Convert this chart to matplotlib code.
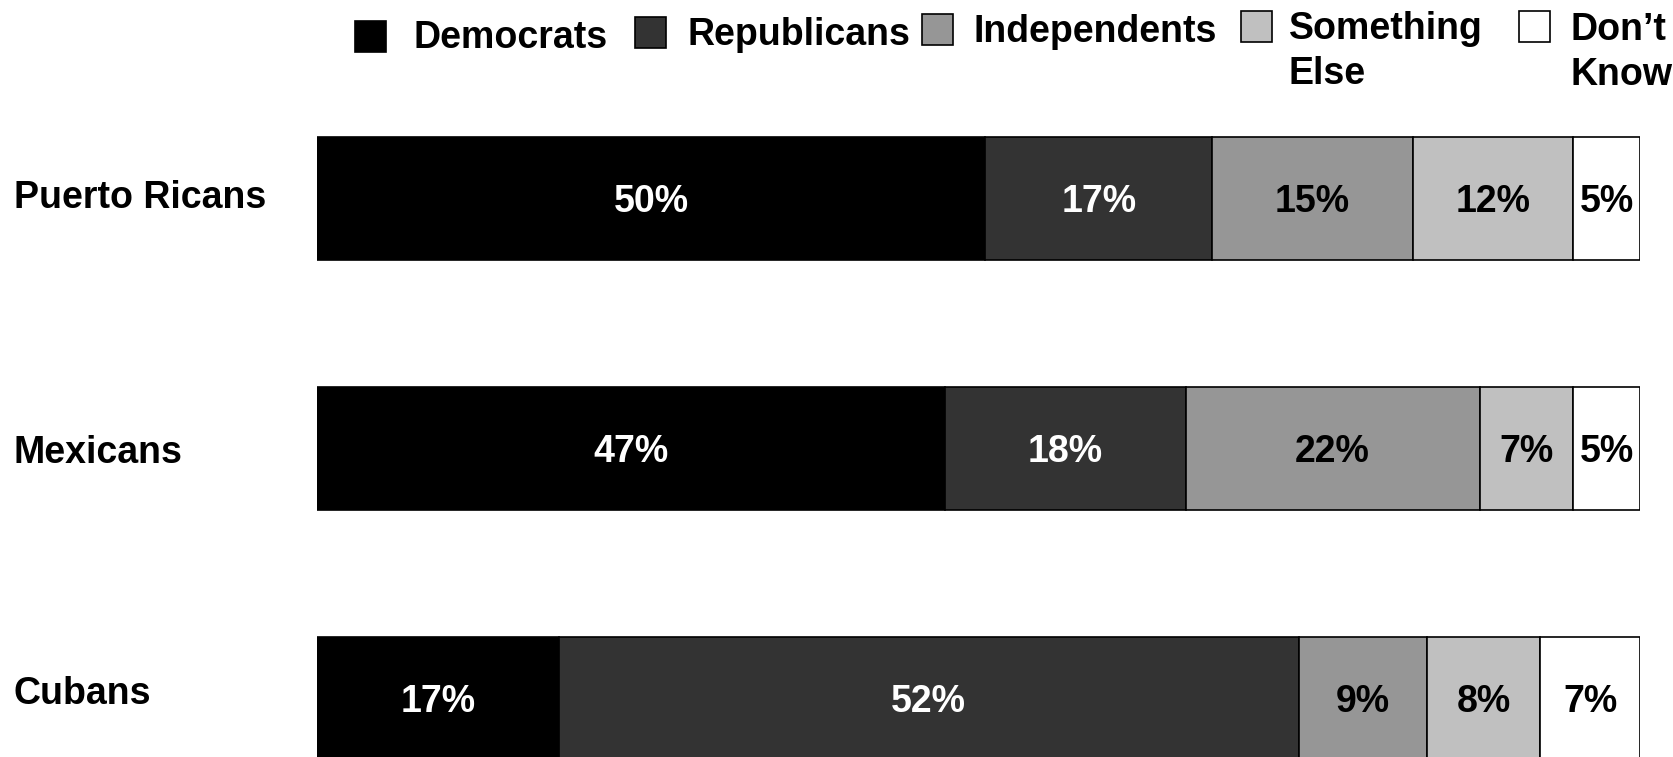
import matplotlib
matplotlib.use('Agg')
import matplotlib.pyplot as plt
from matplotlib.patches import Rectangle
import numpy as np

plt.rcParams['font.family'] = ['Liberation Sans', 'DejaVu Sans']
plt.rcParams['font.weight'] = 'bold'
plt.rcParams['font.size'] = 27

groups = ['Puerto Ricans', 'Mexicans', 'Cubans']
series = ['Democrats', 'Republicans', 'Independents', 'Something\nElse', 'Don\u2019t\nKnow']
colors = ['#000000', '#333333', '#969696', '#c0c0c0', '#ffffff']
text_colors = ['white', 'white', 'black', 'black', 'black']

democrats = [50, 47, 17]
republicans = [17, 18, 52]
independents = [15, 22, 9]
something_else = [12, 7, 8]
dont_know = [5, 5, 7]

values = np.array([democrats, republicans, independents, something_else, dont_know], dtype=float)
shares = values / values.sum(axis=0)

W, H = 1674, 757
fig = plt.figure(figsize=(W / 100, H / 100), dpi=100)
ax = fig.add_axes([317 / W, 0, (1640 - 317) / W, (757 - 100) / H])

y = np.arange(len(groups))
left = np.zeros(len(groups))
for i in range(len(series)):
    ax.barh(y, shares[i], left=left, height=0.495, color=colors[i],
            edgecolor='black', linewidth=1.2)
    for j in range(len(groups)):
        ax.text(left[j] + shares[i][j] / 2, y[j] + 0.016, f'{int(values[i][j])}%',
                ha='center', va='center', color=text_colors[i], fontsize=27, fontweight='bold')
    left += shares[i]

ax.set_xlim(0, 1)
ax.set_ylim((757 - 198.5) / 250, (100 - 198.5) / 250)
ax.axis('off')

# group labels on the left
trans = matplotlib.transforms.blended_transform_factory(fig.transFigure, ax.transData)
label_offsets = [0.0, 0.017, -0.018]
for j, g in enumerate(groups):
    ax.text(14 / W, y[j] + label_offsets[j], g, transform=trans, ha='left', va='center',
            fontsize=27, fontweight='bold')

# legend drawn by hand to follow the original spacing
sq_x = [355, 635, 922, 1241, 1519]
sq_top = [21, 17, 14, 11, 11]
txt_x = [414, 688, 974, 1289, 1571]
txt_y = [35, 32, 29, 26, 27]
sq = 31
for i in range(len(series)):
    fig.add_artist(Rectangle((sq_x[i] / W, 1 - (sq_top[i] + sq) / H), sq / W, sq / H,
                             transform=fig.transFigure, facecolor=colors[i],
                             edgecolor='black', linewidth=1.2))
    fig.text(txt_x[i] / W, 1 - (txt_y[i] - 15) / H, series[i], ha='left', va='top',
             fontsize=27, fontweight='bold', linespacing=1.32)

fig.savefig('out.png', dpi=100)
